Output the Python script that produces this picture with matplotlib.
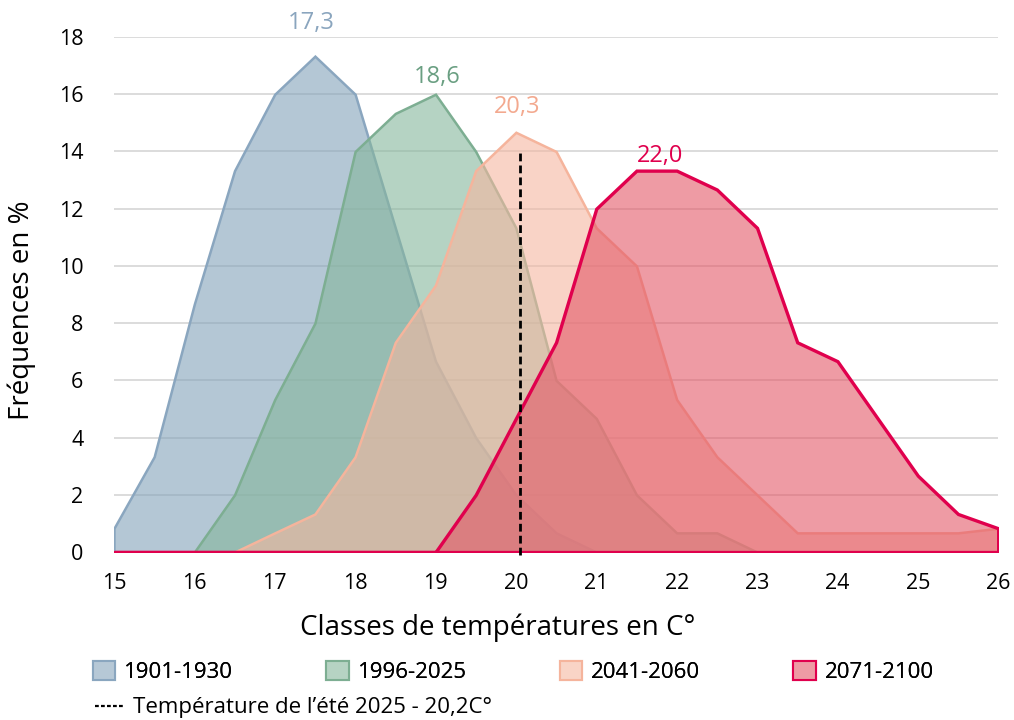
import matplotlib
matplotlib.use("Agg")
from matplotlib import pyplot as plt
from matplotlib.colors import to_rgba
from matplotlib.patches import Patch
from matplotlib.lines import Line2D

plt.rcParams['font.family'] = ['Open Sans', 'DejaVu Sans']

# temperature classes (C)
classes = [15, 15.5, 16, 16.5, 17, 17.5, 18, 18.5, 19, 19.5, 20, 20.5,
           21, 21.5, 22, 22.5, 23, 23.5, 24, 24.5, 25, 25.5, 26]

# frequencies (%) per period
freq_1901 = [0.83, 3.33, 8.67, 13.33, 16.0, 17.33, 16.0, 11.33, 6.67, 4.0, 2.0, 0.67,
             0, 0, 0, 0, 0, 0, 0, 0, 0, 0, 0]
freq_1996 = [0, 0, 0, 2.0, 5.33, 8.0, 14.0, 15.33, 16.0, 14.0, 11.33, 6.0,
             4.67, 2.0, 0.67, 0.67, 0, 0, 0, 0, 0, 0, 0]
freq_2041 = [0, 0, 0, 0, 0.67, 1.33, 3.33, 7.33, 9.33, 13.33, 14.67, 14.0,
             11.33, 10.0, 5.33, 3.33, 2.0, 0.67, 0.67, 0.67, 0.67, 0.67, 0.83]
freq_2071 = [0, 0, 0, 0, 0, 0, 0, 0, 0, 2.0, 4.67, 7.33,
             12.0, 13.33, 13.33, 12.67, 11.33, 7.33, 6.67, 4.67, 2.67, 1.33, 0.83]

periods = ['1901-1930', '1996-2025', '2041-2060', '2071-2100']
mean_labels = ['17,3', '18,6', '20,3', '22,0']
mean_label_x = [17.45, 19.02, 20.01, 21.79]
mean_label_y = [18.5, 16.6, 15.55, 13.85]

summer_2025 = 20.05  # drawn position of the 2025 summer marker
summer_label = "Température de l’été 2025 - 20,2C°"

# style
fill_cols = ['#82A2B9', '#85B69B', '#F5B7A0', '#E35867']
legend_fill = ['#B6C8D6', '#B6D3C3', '#F9D4C6', '#EE9BA4']
edge_cols = ['#8AA6BF', '#7DAE92', '#F5B49C', '#E0004D']
text_cols = ['#8AA5BE', '#6A9F82', '#F3A98F', '#E0004D']
edge_w = [1.8, 1.8, 1.8, 2.4]

series = [freq_1901, freq_1996, freq_2041, freq_2071]

fig = plt.figure(figsize=(10.14, 7.2), dpi=100)
ax = fig.add_axes([0.1124, 0.2333, 0.872, 0.7153])

for vals, fc, ec, lw in zip(series, fill_cols, edge_cols, edge_w):
    ax.fill_between(classes, 0, vals, facecolor=to_rgba(fc, 0.6),
                    edgecolor=ec, linewidth=lw, joinstyle='miter')

for lab, lx, ly, tc in zip(mean_labels, mean_label_x, mean_label_y, text_cols):
    ax.text(lx, ly, lab, color=tc, fontsize=17, ha='center', va='center')

ax.plot([summer_2025, summer_2025], [-0.12, 14], color='black', lw=2.0,
        ls=(0, (2.8, 1.5)), clip_on=False, zorder=5)

ax.set_xlim(15, 26)
ax.set_ylim(0, 18)
ax.set_xticks(range(15, 27))
ax.set_yticks(range(0, 19, 2))
ax.yaxis.grid(True, color='#D9D9D9', lw=1.3)
ax.set_axisbelow(True)
for s in ax.spines.values():
    s.set_visible(False)
ax.tick_params(length=0, labelsize=15.5, colors='#000000')
ax.tick_params(axis='y', pad=22)
ax.tick_params(axis='x', pad=15)

ax.set_xlabel('Classes de températures en C°', fontsize=20, va='center')
ax.xaxis.set_label_coords(0.434, -0.1476)
ax.set_ylabel('Fréquences en %', fontsize=20, va='center')
ax.yaxis.set_label_coords(-0.104, 0.47)

handles = [Patch(facecolor=lf, edgecolor=ec, lw=1.5)
           for lf, ec in zip(legend_fill, edge_cols)]
leg1 = fig.legend(handles, periods, loc='center left', bbox_to_anchor=(0.0917, 0.0667),
                  ncol=4, frameon=False, fontsize=16, handlelength=1.0,
                  handleheight=0.95, handletextpad=0.4, columnspacing=4.2,
                  borderpad=0, borderaxespad=0)
fig.add_artist(leg1)
fig.legend([Line2D([0], [0], color='black', lw=1.6, ls=(0, (1.7, 1.0)))], [summer_label],
           loc='center left', bbox_to_anchor=(0.0937, 0.0167), frameon=False,
           fontsize=16, handlelength=1.35, handletextpad=0.36,
           borderpad=0, borderaxespad=0)

fig.savefig('out.png', dpi=100)
